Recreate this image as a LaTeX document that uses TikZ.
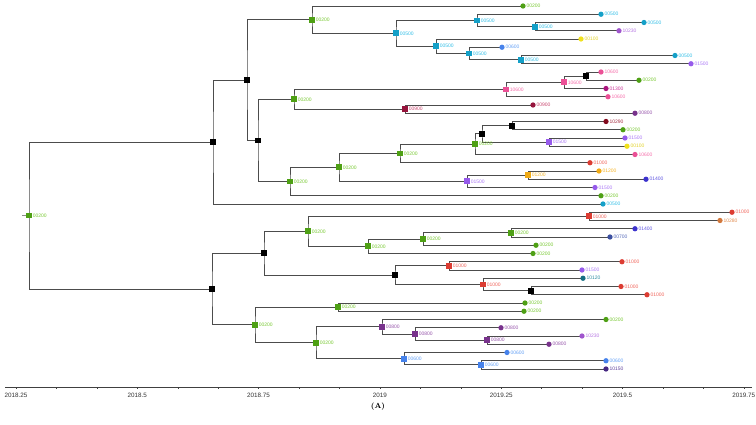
\documentclass[tikz,border=0pt]{standalone}
\usepackage{fontspec}
\setsansfont{Liberation Sans}
\usetikzlibrary{calc}
\pgfdeclarelayer{background}
\pgfsetlayers{background,main}
% marker / label colours
\definecolor{cG}{RGB}{78,160,20}\definecolor{cGl}{RGB}{120,200,50}
\definecolor{cC}{RGB}{20,160,200}\definecolor{cCl}{RGB}{50,190,230}
\definecolor{cV}{RGB}{150,90,235}\definecolor{cVl}{RGB}{170,120,245}
\definecolor{cPu}{RGB}{160,85,205}\definecolor{cPul}{RGB}{180,115,225}
\definecolor{cY}{RGB}{240,225,30}\definecolor{cYl}{RGB}{225,210,40}
\definecolor{cB}{RGB}{70,130,235}\definecolor{cBl}{RGB}{100,160,245}
\definecolor{cPk}{RGB}{235,80,150}\definecolor{cPkl}{RGB}{245,110,170}
\definecolor{cMg}{RGB}{170,20,125}\definecolor{cMgl}{RGB}{200,50,150}
\definecolor{cCr}{RGB}{150,20,60}\definecolor{cCrl}{RGB}{200,70,110}
\definecolor{cPp}{RGB}{120,50,140}\definecolor{cPpl}{RGB}{150,85,170}
\definecolor{cDr}{RGB}{130,10,30}\definecolor{cDrl}{RGB}{165,45,65}
\definecolor{cR}{RGB}{220,60,50}\definecolor{cRl}{RGB}{240,100,90}
\definecolor{cO}{RGB}{240,170,20}\definecolor{cOl}{RGB}{245,180,40}
\definecolor{cDb}{RGB}{60,50,205}\definecolor{cDbl}{RGB}{95,85,225}
\definecolor{cBr}{RGB}{210,120,60}\definecolor{cBrl}{RGB}{225,140,80}
\definecolor{cSb}{RGB}{60,80,160}\definecolor{cSbl}{RGB}{85,105,185}
\definecolor{cT}{RGB}{20,110,130}\definecolor{cTl}{RGB}{45,140,160}
\definecolor{cI}{RGB}{70,40,130}\definecolor{cIl}{RGB}{95,65,155}
\newcommand\leafat[5]{\node[leafmark,fill=#4] (#1) at (#2,#3) {}; \node[lab,text=#4l] at (#1.east) {#5};}
\newcommand\inat[5]{\node[inmark,fill=#4] (#1) at (#2,#3) {}; \node[lab,text=#4l] at (#1.east) {#5};}
\newcommand\blk[3]{\node[inmark,fill=black] (#1) at (#2,#3) {};}
\newcommand\edge[3]{\draw[br] (#2.center) -| (#1.center) |- (#3.center);}
\tikzset{
  leafmark/.style={circle,inner sep=0pt,minimum size=5.3pt,draw=none},
  inmark/.style={rectangle,inner sep=0pt,minimum size=5.8pt,draw=none},
  lab/.style={anchor=west,inner sep=0pt,xshift=0.5pt,font=\sffamily\fontsize{5}{5}\selectfont},
  br/.style={draw=black!70,line width=0.85pt},
  axlab/.style={font=\sffamily\fontsize{6.3}{7}\selectfont,text=black!80,anchor=north}
}
\begin{document}
\begin{tikzpicture}[x=1pt,y=-1pt]
\useasboundingbox (0,0) rectangle (756,424);
% ---- leaves
\leafat{L0}{523}{6}{cG}{00200}
\leafat{L1}{601}{14.25}{cC}{00500}
\leafat{L2}{644}{22.5}{cC}{00500}
\leafat{L3}{619}{30.75}{cPu}{10230}
\leafat{L4}{581}{39}{cY}{00100}
\leafat{L5}{502}{47.25}{cB}{00600}
\leafat{L6}{675}{55.5}{cC}{00500}
\leafat{L7}{691}{63.75}{cV}{01500}
\leafat{L8}{601}{72}{cPk}{10600}
\leafat{L9}{639}{80.25}{cG}{00200}
\leafat{L10}{606}{88.5}{cMg}{01300}
\leafat{L11}{608}{96.75}{cPk}{10600}
\leafat{L12}{533}{105}{cCr}{00900}
\leafat{L13}{635}{113.25}{cPp}{00800}
\leafat{L14}{606}{121.5}{cDr}{10290}
\leafat{L15}{623}{129.75}{cG}{00200}
\leafat{L16}{625}{138}{cV}{01500}
\leafat{L17}{627}{146.25}{cY}{00100}
\leafat{L18}{635}{154.5}{cPk}{10600}
\leafat{L19}{590}{162.75}{cR}{01000}
\leafat{L20}{599}{171}{cO}{01200}
\leafat{L21}{646}{179.25}{cDb}{01400}
\leafat{L22}{595}{187.5}{cV}{01500}
\leafat{L23}{601}{195.75}{cG}{00200}
\leafat{L24}{603}{204}{cC}{00500}
\leafat{L25}{732}{212.25}{cR}{01000}
\leafat{L26}{720}{220.5}{cBr}{10280}
\leafat{L27}{635}{228.75}{cDb}{01400}
\leafat{L28}{610}{237}{cSb}{00700}
\leafat{L29}{536}{245.25}{cG}{00200}
\leafat{L30}{533}{253.5}{cG}{00200}
\leafat{L31}{622}{261.75}{cR}{01000}
\leafat{L32}{582}{270}{cV}{01500}
\leafat{L33}{583}{278.25}{cT}{10120}
\leafat{L34}{621}{286.5}{cR}{01000}
\leafat{L35}{647}{294.75}{cR}{01000}
\leafat{L36}{525}{303}{cG}{00200}
\leafat{L37}{524}{311.25}{cG}{00200}
\leafat{L38}{606}{319.5}{cG}{00200}
\leafat{L39}{501}{327.75}{cPp}{00800}
\leafat{L40}{582}{336}{cPu}{10230}
\leafat{L41}{549}{344.25}{cPp}{00800}
\leafat{L42}{507}{352.5}{cB}{00600}
\leafat{L43}{606}{360.75}{cB}{00600}
\leafat{L44}{606}{369}{cI}{10150}
% ---- internal nodes
\inat{N535}{535}{26.63}{cC}{00500}
\inat{N477}{477}{20.44}{cC}{00500}
\inat{N521}{521}{59.63}{cC}{00500}
\inat{N469}{469}{53.44}{cC}{00500}
\inat{N436}{436}{46.22}{cC}{00500}
\inat{N396}{396}{33.33}{cC}{00500}
\inat{N312}{312}{19.66}{cG}{00200}
\blk{N586}{586}{76.13}
\inat{N564}{564}{82.31}{cPk}{10600}
\inat{N506}{506}{89.53}{cPk}{10600}
\inat{N405}{405}{109.13}{cCr}{00900}
\inat{N294}{294}{99.33}{cG}{00200}
\blk{N512}{512}{125.63}
\inat{N549}{549}{142.13}{cV}{01500}
\blk{N482}{482}{133.88}
\inat{N475}{475}{144.19}{cG}{00200}
\inat{N400}{400}{153.47}{cG}{00200}
\inat{N528}{528}{175.13}{cO}{01200}
\inat{N467}{467}{181.31}{cV}{01500}
\inat{N339}{339}{167.39}{cG}{00200}
\inat{N290}{290}{181.57}{cG}{00200}
\blk{N258}{258}{140.45}
\blk{N247}{247}{80.06}
\blk{N213}{213}{142.03}
\inat{N589}{589}{216.38}{cR}{01000}
\inat{N511}{511}{232.88}{cG}{00200}
\inat{N423}{423}{239.06}{cG}{00200}
\inat{N368}{368}{246.28}{cG}{00200}
\inat{N308}{308}{231.33}{cG}{00200}
\inat{N449}{449}{265.88}{cR}{01000}
\blk{N531}{531}{290.63}
\inat{N483}{483}{284.44}{cR}{01000}
\blk{N395}{395}{275.16}
\blk{N264}{264}{253.24}
\inat{N338}{338}{307.13}{cG}{00200}
\inat{N487}{487}{340.13}{cPp}{00800}
\inat{N415}{415}{333.94}{cPp}{00800}
\inat{N382}{382}{326.72}{cPp}{00800}
\inat{N481}{481}{364.88}{cB}{00600}
\inat{N404}{404}{358.69}{cB}{00600}
\inat{N316}{316}{342.70}{cG}{00200}
\inat{N255}{255}{324.90}{cG}{00200}
\blk{N212}{212}{289.07}
\inat{R}{29}{215.55}{cG}{00200}
\coordinate (Rstub) at (22,215.55);
% ---- branches
\begin{pgfonlayer}{background}
\edge{N535}{L2}{L3}
\edge{N477}{L1}{N535}
\edge{N521}{L6}{L7}
\edge{N469}{L5}{N521}
\edge{N436}{L4}{N469}
\edge{N396}{N477}{N436}
\edge{N312}{L0}{N396}
\edge{N586}{L8}{L9}
\edge{N564}{N586}{L10}
\edge{N506}{N564}{L11}
\edge{N405}{L12}{L13}
\edge{N294}{N506}{N405}
\edge{N512}{L14}{L15}
\edge{N549}{L16}{L17}
\edge{N482}{N512}{N549}
\edge{N475}{N482}{L18}
\edge{N400}{N475}{L19}
\edge{N528}{L20}{L21}
\edge{N467}{N528}{L22}
\edge{N339}{N400}{N467}
\edge{N290}{N339}{L23}
\edge{N258}{N294}{N290}
\edge{N247}{N312}{N258}
\edge{N213}{N247}{L24}
\edge{N589}{L25}{L26}
\edge{N511}{L27}{L28}
\edge{N423}{N511}{L29}
\edge{N368}{N423}{L30}
\edge{N308}{N589}{N368}
\edge{N449}{L31}{L32}
\edge{N531}{L34}{L35}
\edge{N483}{L33}{N531}
\edge{N395}{N449}{N483}
\edge{N264}{N308}{N395}
\edge{N338}{L36}{L37}
\edge{N487}{L40}{L41}
\edge{N415}{L39}{N487}
\edge{N382}{L38}{N415}
\edge{N481}{L43}{L44}
\edge{N404}{L42}{N481}
\edge{N316}{N382}{N404}
\edge{N255}{N338}{N316}
\edge{N212}{N264}{N255}
\edge{R}{N213}{N212}
\draw[br,black!45] (Rstub) -- (R.center);
\end{pgfonlayer}
% ---- time axis
\coordinate (axL) at (5,387);
\coordinate (axR) at (752,387);
\draw[black!75,line width=0.5pt] (axL) -- (axR);
\foreach \k in {0,...,18} {\draw[black!75,line width=0.4pt] ({16+121.3*\k/3},387) -- ++(0,1.8);}
\foreach \k/\t in {0/2018.25,1/2018.5,2/2018.75,3/2019,4/2019.25,5/2019.5,6/2019.75}
  {\node[axlab] (ax\k) at ({16+121.3*\k},390) {\t};}
\node[font=\bfseries\fontsize{7.5}{8}\selectfont] (cap) at (378,407) {(A)};
\end{tikzpicture}
\end{document}
